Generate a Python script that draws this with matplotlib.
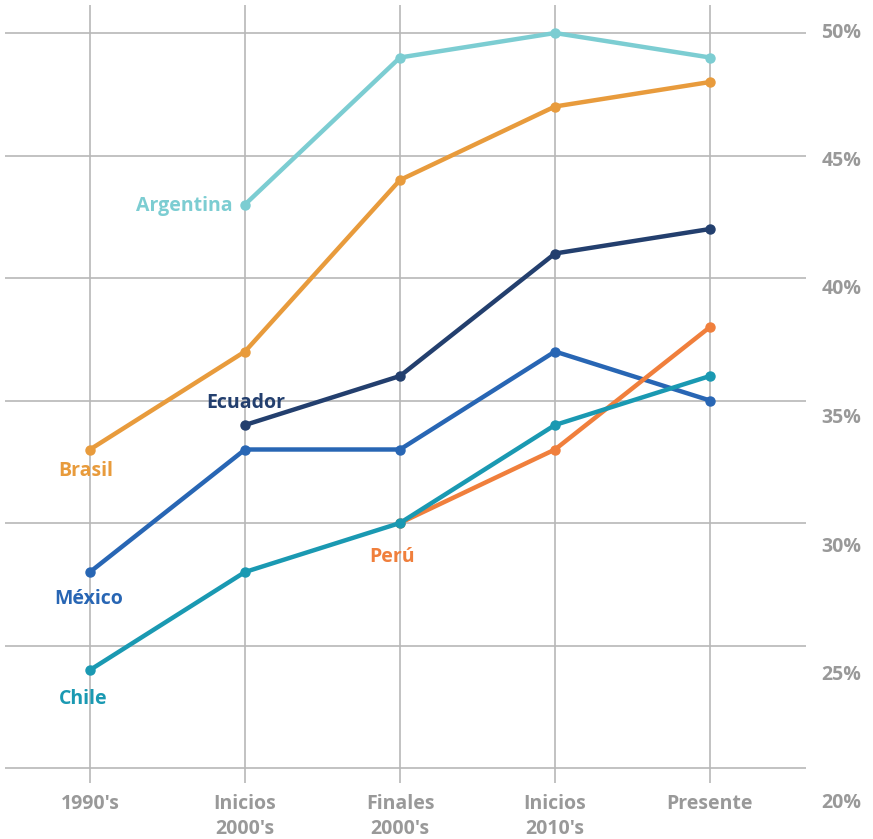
import numpy as np
import matplotlib.pyplot as plt

# Periodos y porcentajes por pais (None = sin dato)
periodos = ["1990's", "Inicios\n2000's", "Finales\n2000's", "Inicios\n2010's", "Presente"]

argentina = [None, 43, 49, 50, 49]
brasil = [33, 37, 44, 47, 48]
ecuador = [None, 34, 36, 41, 42]
mexico = [28, 33, 33, 37, 35]
peru = [None, None, 30, 33, 38]
chile = [24, 28, 30, 34, 36]

ticks_y = [20, 25, 30, 35, 40, 45, 50]

series = [
    ("Argentina", argentina, "#7ccdd2", (-12, -2), "right"),
    ("Brasil", brasil, "#e89b3c", (-4, -21), "center"),
    ("Ecuador", ecuador, "#233f6e", (1, 22), "center"),
    ("México", mexico, "#2866b4", (-1, -27), "center"),
    ("Perú", peru, "#f07f3c", (-8, -34), "center"),
    ("Chile", chile, "#1a99b2", (-7, -29), "center"),
]

plt.rcParams['font.family'] = ['Open Sans', 'DejaVu Sans']

W, H = 873, 839
fig = plt.figure(figsize=(W / 100, H / 100), dpi=100)
ax = fig.add_axes([5 / W, 1 - 783 / H, 801 / W, 778 / H])

x = np.arange(len(periodos))
for nombre, valores, color, offset, ha in series:
    v = np.array([np.nan if a is None else a for a in valores], dtype=float)
    ax.plot(x, v, color=color, lw=3.2, marker='o', ms=6.5, solid_capstyle='round', zorder=3)
    i0 = int(np.where(~np.isnan(v))[0][0])
    ax.annotate(nombre, (x[i0], v[i0]), xytext=offset, textcoords='offset pixels',
                ha=ha, va='center', color=color, fontsize=14, fontweight='bold', zorder=4)

ax.set_xticks(x)
ax.set_xticklabels(periodos, fontsize=14, fontweight='bold', color='#999999', linespacing=1.3)
ax.set_yticks(ticks_y)
ax.set_yticklabels([])
ax.set_xlim((5 - 90) / 155, (806 - 90) / 155)
ax.set_ylim(20 - 15 / 24.5, 20 + 763 / 24.5)
ax.tick_params(axis='x', length=0, pad=8)
ax.tick_params(axis='y', length=0)
ax.grid(True, color='#b8b8b8', lw=1.2)
ax.set_axisbelow(True)
for s in ax.spines.values():
    s.set_visible(False)

# etiquetas del eje derecho, en un eje aparte mas alto
ax2 = fig.add_axes([5 / W, 1 - 818 / H, 801 / W, 813 / H])
ax2.patch.set_visible(False)
ax2.set_xticks([])
ax2.yaxis.tick_right()
ax2.set_yticks(ticks_y)
ax2.set_yticklabels([f"{t}%" for t in ticks_y], fontsize=14, fontweight='bold', color='#999999')
ax2.set_ylim(20 - (818 - 801) / 25.7, 20 + (801 - 5) / 25.7)
ax2.tick_params(length=0, pad=11)
for s in ax2.spines.values():
    s.set_visible(False)

fig.savefig("out.png", dpi=100)
